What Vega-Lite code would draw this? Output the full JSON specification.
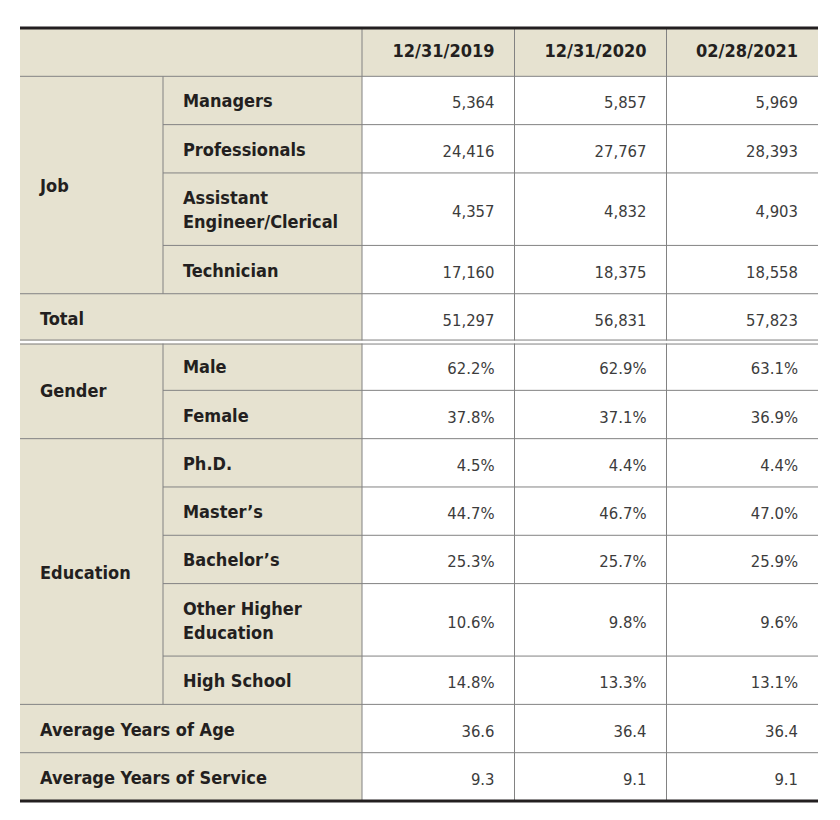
{
  "$schema": "https://vega.github.io/schema/vega-lite/v6.json",
  "width": 798,
  "height": 773,
  "autosize": {"type": "none"},
  "padding": {"left": 20, "top": 28, "right": 22, "bottom": 19},
  "background": "#ffffff",
  "config": {"view": {"stroke": null}},
  "datasets": {
    "cells": [
      {"row": "header", "c0": 0, "c1": 2, "r0": 0, "r1": 2, "rm": 1, "text": "", "kind": "head"},
      {"row": "header", "c0": 2, "c1": 3, "r0": 0, "r1": 2, "rm": 1, "text": "12/31/2019", "kind": "head"},
      {"row": "header", "c0": 3, "c1": 4, "r0": 0, "r1": 2, "rm": 1, "text": "12/31/2020", "kind": "head"},
      {"row": "header", "c0": 4, "c1": 5, "r0": 0, "r1": 2, "rm": 1, "text": "02/28/2021", "kind": "head"},

      {"row": "Job", "c0": 0, "c1": 1, "r0": 2, "r1": 11, "rm": 6.5, "text": "Job", "kind": "label"},
      {"row": "Managers", "c0": 1, "c1": 2, "r0": 2, "r1": 4, "rm": 3, "text": "Managers", "kind": "label"},
      {"row": "Professionals", "c0": 1, "c1": 2, "r0": 4, "r1": 6, "rm": 5, "text": "Professionals", "kind": "label"},
      {"row": "Assistant", "c0": 1, "c1": 2, "r0": 6, "r1": 9, "rm": 7.5, "text": "Assistant\nEngineer/Clerical", "kind": "label2"},
      {"row": "Technician", "c0": 1, "c1": 2, "r0": 9, "r1": 11, "rm": 10, "text": "Technician", "kind": "label"},
      {"row": "Total", "c0": 0, "c1": 2, "r0": 11, "r1": 13, "rm": 12, "text": "Total", "kind": "label"},
      {"row": "Gender", "c0": 0, "c1": 1, "r0": 13, "r1": 17, "rm": 15, "text": "Gender", "kind": "label"},
      {"row": "Male", "c0": 1, "c1": 2, "r0": 13, "r1": 15, "rm": 14, "text": "Male", "kind": "label"},
      {"row": "Female", "c0": 1, "c1": 2, "r0": 15, "r1": 17, "rm": 16, "text": "Female", "kind": "label"},
      {"row": "Education", "c0": 0, "c1": 1, "r0": 17, "r1": 28, "rm": 22.5, "text": "Education", "kind": "label"},
      {"row": "PhD", "c0": 1, "c1": 2, "r0": 17, "r1": 19, "rm": 18, "text": "Ph.D.", "kind": "label"},
      {"row": "Master", "c0": 1, "c1": 2, "r0": 19, "r1": 21, "rm": 20, "text": "Master’s", "kind": "label"},
      {"row": "Bachelor", "c0": 1, "c1": 2, "r0": 21, "r1": 23, "rm": 22, "text": "Bachelor’s", "kind": "label"},
      {"row": "Other", "c0": 1, "c1": 2, "r0": 23, "r1": 26, "rm": 24.5, "text": "Other Higher\nEducation", "kind": "label2"},
      {"row": "HighSchool", "c0": 1, "c1": 2, "r0": 26, "r1": 28, "rm": 27, "text": "High School", "kind": "label"},
      {"row": "Age", "c0": 0, "c1": 2, "r0": 28, "r1": 30, "rm": 29, "text": "Average Years of Age", "kind": "label"},
      {"row": "Service", "c0": 0, "c1": 2, "r0": 30, "r1": 32, "rm": 31, "text": "Average Years of Service", "kind": "label"},

      {"row": "Managers", "c0": 2, "c1": 3, "r0": 2, "r1": 4, "rm": 3, "text": "5,364", "kind": "value"},
      {"row": "Managers", "c0": 3, "c1": 4, "r0": 2, "r1": 4, "rm": 3, "text": "5,857", "kind": "value"},
      {"row": "Managers", "c0": 4, "c1": 5, "r0": 2, "r1": 4, "rm": 3, "text": "5,969", "kind": "value"},
      {"row": "Professionals", "c0": 2, "c1": 3, "r0": 4, "r1": 6, "rm": 5, "text": "24,416", "kind": "value"},
      {"row": "Professionals", "c0": 3, "c1": 4, "r0": 4, "r1": 6, "rm": 5, "text": "27,767", "kind": "value"},
      {"row": "Professionals", "c0": 4, "c1": 5, "r0": 4, "r1": 6, "rm": 5, "text": "28,393", "kind": "value"},
      {"row": "Assistant", "c0": 2, "c1": 3, "r0": 6, "r1": 9, "rm": 7.5, "text": "4,357", "kind": "value"},
      {"row": "Assistant", "c0": 3, "c1": 4, "r0": 6, "r1": 9, "rm": 7.5, "text": "4,832", "kind": "value"},
      {"row": "Assistant", "c0": 4, "c1": 5, "r0": 6, "r1": 9, "rm": 7.5, "text": "4,903", "kind": "value"},
      {"row": "Technician", "c0": 2, "c1": 3, "r0": 9, "r1": 11, "rm": 10, "text": "17,160", "kind": "value"},
      {"row": "Technician", "c0": 3, "c1": 4, "r0": 9, "r1": 11, "rm": 10, "text": "18,375", "kind": "value"},
      {"row": "Technician", "c0": 4, "c1": 5, "r0": 9, "r1": 11, "rm": 10, "text": "18,558", "kind": "value"},
      {"row": "Total", "c0": 2, "c1": 3, "r0": 11, "r1": 13, "rm": 12, "text": "51,297", "kind": "value"},
      {"row": "Total", "c0": 3, "c1": 4, "r0": 11, "r1": 13, "rm": 12, "text": "56,831", "kind": "value"},
      {"row": "Total", "c0": 4, "c1": 5, "r0": 11, "r1": 13, "rm": 12, "text": "57,823", "kind": "value"},
      {"row": "Male", "c0": 2, "c1": 3, "r0": 13, "r1": 15, "rm": 14, "text": "62.2%", "kind": "value"},
      {"row": "Male", "c0": 3, "c1": 4, "r0": 13, "r1": 15, "rm": 14, "text": "62.9%", "kind": "value"},
      {"row": "Male", "c0": 4, "c1": 5, "r0": 13, "r1": 15, "rm": 14, "text": "63.1%", "kind": "value"},
      {"row": "Female", "c0": 2, "c1": 3, "r0": 15, "r1": 17, "rm": 16, "text": "37.8%", "kind": "value"},
      {"row": "Female", "c0": 3, "c1": 4, "r0": 15, "r1": 17, "rm": 16, "text": "37.1%", "kind": "value"},
      {"row": "Female", "c0": 4, "c1": 5, "r0": 15, "r1": 17, "rm": 16, "text": "36.9%", "kind": "value"},
      {"row": "PhD", "c0": 2, "c1": 3, "r0": 17, "r1": 19, "rm": 18, "text": "4.5%", "kind": "value"},
      {"row": "PhD", "c0": 3, "c1": 4, "r0": 17, "r1": 19, "rm": 18, "text": "4.4%", "kind": "value"},
      {"row": "PhD", "c0": 4, "c1": 5, "r0": 17, "r1": 19, "rm": 18, "text": "4.4%", "kind": "value"},
      {"row": "Master", "c0": 2, "c1": 3, "r0": 19, "r1": 21, "rm": 20, "text": "44.7%", "kind": "value"},
      {"row": "Master", "c0": 3, "c1": 4, "r0": 19, "r1": 21, "rm": 20, "text": "46.7%", "kind": "value"},
      {"row": "Master", "c0": 4, "c1": 5, "r0": 19, "r1": 21, "rm": 20, "text": "47.0%", "kind": "value"},
      {"row": "Bachelor", "c0": 2, "c1": 3, "r0": 21, "r1": 23, "rm": 22, "text": "25.3%", "kind": "value"},
      {"row": "Bachelor", "c0": 3, "c1": 4, "r0": 21, "r1": 23, "rm": 22, "text": "25.7%", "kind": "value"},
      {"row": "Bachelor", "c0": 4, "c1": 5, "r0": 21, "r1": 23, "rm": 22, "text": "25.9%", "kind": "value"},
      {"row": "Other", "c0": 2, "c1": 3, "r0": 23, "r1": 26, "rm": 24.5, "text": "10.6%", "kind": "value"},
      {"row": "Other", "c0": 3, "c1": 4, "r0": 23, "r1": 26, "rm": 24.5, "text": "9.8%", "kind": "value"},
      {"row": "Other", "c0": 4, "c1": 5, "r0": 23, "r1": 26, "rm": 24.5, "text": "9.6%", "kind": "value"},
      {"row": "HighSchool", "c0": 2, "c1": 3, "r0": 26, "r1": 28, "rm": 27, "text": "14.8%", "kind": "value"},
      {"row": "HighSchool", "c0": 3, "c1": 4, "r0": 26, "r1": 28, "rm": 27, "text": "13.3%", "kind": "value"},
      {"row": "HighSchool", "c0": 4, "c1": 5, "r0": 26, "r1": 28, "rm": 27, "text": "13.1%", "kind": "value"},
      {"row": "Age", "c0": 2, "c1": 3, "r0": 28, "r1": 30, "rm": 29, "text": "36.6", "kind": "value"},
      {"row": "Age", "c0": 3, "c1": 4, "r0": 28, "r1": 30, "rm": 29, "text": "36.4", "kind": "value"},
      {"row": "Age", "c0": 4, "c1": 5, "r0": 28, "r1": 30, "rm": 29, "text": "36.4", "kind": "value"},
      {"row": "Service", "c0": 2, "c1": 3, "r0": 30, "r1": 32, "rm": 31, "text": "9.3", "kind": "value"},
      {"row": "Service", "c0": 3, "c1": 4, "r0": 30, "r1": 32, "rm": 31, "text": "9.1", "kind": "value"},
      {"row": "Service", "c0": 4, "c1": 5, "r0": 30, "r1": 32, "rm": 31, "text": "9.1", "kind": "value"}
    ],
    "lines": [
      {"x0": 0, "x1": 5, "y0": 2, "y1": 2, "style": "thin"},
      {"x0": 1, "x1": 5, "y0": 4, "y1": 4, "style": "thin"},
      {"x0": 1, "x1": 5, "y0": 6, "y1": 6, "style": "thin"},
      {"x0": 1, "x1": 5, "y0": 9, "y1": 9, "style": "thin"},
      {"x0": 0, "x1": 5, "y0": 11, "y1": 11, "style": "thin"},
      {"x0": 1, "x1": 5, "y0": 15, "y1": 15, "style": "thin"},
      {"x0": 0, "x1": 5, "y0": 17, "y1": 17, "style": "thin"},
      {"x0": 1, "x1": 5, "y0": 19, "y1": 19, "style": "thin"},
      {"x0": 1, "x1": 5, "y0": 21, "y1": 21, "style": "thin"},
      {"x0": 1, "x1": 5, "y0": 23, "y1": 23, "style": "thin"},
      {"x0": 1, "x1": 5, "y0": 26, "y1": 26, "style": "thin"},
      {"x0": 0, "x1": 5, "y0": 28, "y1": 28, "style": "thin"},
      {"x0": 0, "x1": 5, "y0": 30, "y1": 30, "style": "thin"},
      {"x0": 1, "x1": 1, "y0": 2, "y1": 11, "style": "thin"},
      {"x0": 1, "x1": 1, "y0": 13, "y1": 28, "style": "thin"},
      {"x0": 2, "x1": 2, "y0": 0, "y1": 32, "style": "thin"},
      {"x0": 3, "x1": 3, "y0": 0, "y1": 32, "style": "thin"},
      {"x0": 4, "x1": 4, "y0": 0, "y1": 32, "style": "thin"},
      {"x0": 0, "x1": 5, "y0": 13, "y1": 13, "style": "double"},
      {"x0": 0, "x1": 5, "y0": 0, "y1": 0, "style": "thick"},
      {"x0": 0, "x1": 5, "y0": 32, "y1": 32, "style": "thick"}
    ]
  },
  "layer": [
    {
      "data": {"name": "cells"},
      "mark": {"type": "rect"},
      "encoding": {
        "x": {"field": "c0", "type": "quantitative", "axis": null, "scale": {"domain": [0, 1, 2, 3, 4, 5], "range": [0, 143, 342, 494.5, 646.5, 798], "nice": false, "zero": false}},
        "x2": {"field": "c1"},
        "y": {"field": "r0", "type": "quantitative", "axis": null, "scale": {"domain": [0, 32], "range": [0, 773], "nice": false, "zero": false}},
        "y2": {"field": "r1"},
        "fill": {"field": "kind", "type": "nominal", "legend": null, "scale": {"domain": ["head", "label", "label2", "value"], "range": ["#e6e2d0", "#e6e2d0", "#e6e2d0", "#ffffff"]}}
      }
    },
    {
      "data": {"name": "lines"},
      "transform": [{"filter": "datum.style === 'thin'"}],
      "mark": {"type": "rule", "color": "#828282", "strokeWidth": 1},
      "encoding": {
        "x": {"field": "x0", "type": "quantitative"},
        "x2": {"field": "x1"},
        "y": {"field": "y0", "type": "quantitative"},
        "y2": {"field": "y1"}
      }
    },
    {
      "data": {"name": "lines"},
      "transform": [{"filter": "datum.style === 'double'"}],
      "mark": {"type": "rule", "color": "#ffffff", "strokeWidth": 3},
      "encoding": {
        "x": {"field": "x0", "type": "quantitative"},
        "x2": {"field": "x1"},
        "y": {"field": "y0", "type": "quantitative"},
        "y2": {"field": "y1"}
      }
    },
    {
      "data": {"name": "lines"},
      "transform": [{"filter": "datum.style === 'double'"}],
      "mark": {"type": "rule", "color": "#828282", "strokeWidth": 1, "yOffset": -2, "y2Offset": -2},
      "encoding": {
        "x": {"field": "x0", "type": "quantitative"},
        "x2": {"field": "x1"},
        "y": {"field": "y0", "type": "quantitative"},
        "y2": {"field": "y1"}
      }
    },
    {
      "data": {"name": "lines"},
      "transform": [{"filter": "datum.style === 'double'"}],
      "mark": {"type": "rule", "color": "#828282", "strokeWidth": 1, "yOffset": 2, "y2Offset": 2},
      "encoding": {
        "x": {"field": "x0", "type": "quantitative"},
        "x2": {"field": "x1"},
        "y": {"field": "y0", "type": "quantitative"},
        "y2": {"field": "y1"}
      }
    },
    {
      "data": {"name": "lines"},
      "transform": [{"filter": "datum.style === 'thick'"}],
      "mark": {"type": "rule", "color": "#231f20", "strokeWidth": 3},
      "encoding": {
        "x": {"field": "x0", "type": "quantitative"},
        "x2": {"field": "x1"},
        "y": {"field": "y0", "type": "quantitative"},
        "y2": {"field": "y1"}
      }
    },
    {
      "data": {"name": "cells"},
      "transform": [{"filter": "datum.kind === 'label'"}],
      "mark": {"type": "text", "align": "left", "baseline": "middle", "dx": 20, "dy": 2, "font": "DejaVu Sans Condensed", "fontWeight": "bold", "fontSize": 18, "color": "#231f20"},
      "encoding": {
        "x": {"field": "c0", "type": "quantitative"},
        "y": {"field": "rm", "type": "quantitative"},
        "text": {"field": "text"}
      }
    },
    {
      "data": {"name": "cells"},
      "transform": [{"filter": "datum.kind === 'label2'"}],
      "mark": {"type": "text", "align": "left", "baseline": "middle", "dx": 20, "dy": -10, "font": "DejaVu Sans Condensed", "fontWeight": "bold", "fontSize": 18, "lineBreak": "\n", "lineHeight": 24, "color": "#231f20"},
      "encoding": {
        "x": {"field": "c0", "type": "quantitative"},
        "y": {"field": "rm", "type": "quantitative"},
        "text": {"field": "text"}
      }
    },
    {
      "data": {"name": "cells"},
      "transform": [{"filter": "datum.kind === 'head'"}],
      "mark": {"type": "text", "align": "right", "baseline": "middle", "dx": -20, "dy": 0, "font": "DejaVu Sans Condensed", "fontWeight": "bold", "fontSize": 18, "color": "#231f20"},
      "encoding": {
        "x": {"field": "c1", "type": "quantitative"},
        "y": {"field": "rm", "type": "quantitative"},
        "text": {"field": "text"}
      }
    },
    {
      "data": {"name": "cells"},
      "transform": [{"filter": "datum.kind === 'value'"}],
      "mark": {"type": "text", "align": "right", "baseline": "middle", "dx": -20, "dy": 3, "font": "DejaVu Sans Condensed", "fontSize": 16.5, "color": "#3c3c3c"},
      "encoding": {
        "x": {"field": "c1", "type": "quantitative"},
        "y": {"field": "rm", "type": "quantitative"},
        "text": {"field": "text"}
      }
    }
  ]
}
